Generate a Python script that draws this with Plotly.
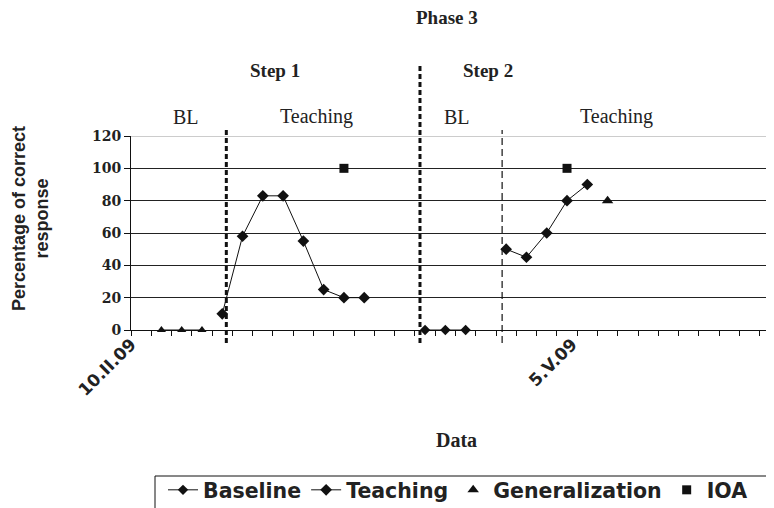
import plotly.graph_objects as go

# ---- data ----
baseline1_sessions = [2, 3, 4]
baseline1_values = [0, 0, 0]
teaching1_sessions = [5, 6, 7, 8, 9, 10, 11, 12]
teaching1_values = [10, 58, 83, 83, 55, 25, 20, 20]
baseline2_sessions = [15, 16, 17]
baseline2_values = [0, 0, 0]
teaching2_sessions = [19, 20, 21, 22, 23]
teaching2_values = [50, 45, 60, 80, 90]
generalization_sessions = [24]
generalization_values = [80]
ioa_sessions = [11, 22]
ioa_values = [100, 100]
date_tick_sessions = [0.5, 22.25]
date_tick_labels = ["10.II.09", "5.V.09"]
phase_change_sessions = [5.2, 14.75, 18.8]
y_ticks = [0, 20, 40, 60, 80, 100, 120]

# ---- layout helpers (page body adds an 8px offset) ----
OFF = 8
FIG_W, FIG_H = 774 - OFF, 508 - OFF
L, T, W, H = 131 - OFF, 136 - OFF, 643, 194
def px_x(px):
    return (px - OFF - L) / W
def px_y(py):
    return (T + H - (py - OFF)) / H

BLACK = "#111111"

fig = go.Figure()
fig.add_trace(go.Scatter(x=baseline1_sessions, y=baseline1_values, mode="lines+markers",
                         name="Baseline", legendgroup="bl",
                         line=dict(color=BLACK, width=1),
                         marker=dict(symbol="triangle-up", size=8, color=BLACK),
                         cliponaxis=False, showlegend=False))
fig.add_trace(go.Scatter(x=baseline2_sessions, y=baseline2_values, mode="lines+markers",
                         name="Baseline", legendgroup="bl",
                         line=dict(color=BLACK, width=1),
                         marker=dict(symbol="diamond", size=8, color=BLACK),
                         cliponaxis=False, showlegend=True))
fig.add_trace(go.Scatter(x=teaching1_sessions, y=teaching1_values, mode="lines+markers",
                         name="Teaching", legendgroup="te",
                         line=dict(color=BLACK, width=1),
                         marker=dict(symbol="diamond", size=9, color=BLACK),
                         cliponaxis=False, showlegend=True))
fig.add_trace(go.Scatter(x=teaching2_sessions, y=teaching2_values, mode="lines+markers",
                         name="Teaching", legendgroup="te",
                         line=dict(color=BLACK, width=1),
                         marker=dict(symbol="diamond", size=9, color=BLACK),
                         cliponaxis=False, showlegend=False))
fig.add_trace(go.Scatter(x=generalization_sessions, y=generalization_values, mode="markers",
                         name="Generalization",
                         marker=dict(symbol="triangle-up", size=10, color=BLACK),
                         cliponaxis=False))
fig.add_trace(go.Scatter(x=ioa_sessions, y=ioa_values, mode="markers",
                         name="IOA",
                         marker=dict(symbol="square", size=9, color=BLACK),
                         cliponaxis=False))
# invisible trace to carry the date tick labels axis
fig.add_trace(go.Scatter(x=date_tick_sessions, y=[None, None], xaxis="x2",
                         mode="markers", showlegend=False, hoverinfo="skip"))

xrange = [0.5, 0.5 + W / 20.28]

fig.update_layout(
    width=FIG_W, height=FIG_H,
    margin=dict(l=L, r=FIG_W - L - W, t=T, b=FIG_H - T - H, autoexpand=False),
    paper_bgcolor="white", plot_bgcolor="white",
    showlegend=True,
    xaxis=dict(range=xrange, showgrid=False, zeroline=False, automargin=False,
               showline=True, linecolor=BLACK, linewidth=1,
               tick0=0.5, dtick=1, ticks="outside", ticklen=5,
               tickcolor=BLACK, showticklabels=False),
    xaxis2=dict(range=xrange, overlaying="x", anchor="y", side="bottom",
                showgrid=False, zeroline=False, showline=False, automargin=False,
                tickvals=date_tick_sessions, ticktext=date_tick_labels,
                tickangle=-45, ticks="",
                tickfont=dict(family="DejaVu Sans", size=17, color="#222222", weight="bold")),
    yaxis=dict(range=[0, 120], tickvals=y_ticks, showgrid=True, automargin=False,
               gridcolor="#222222", gridwidth=1.2, zeroline=False,
               showline=True, linecolor=BLACK, linewidth=1,
               ticks="outside", ticklen=6, tickcolor=BLACK,
               tickfont=dict(family="DejaVu Serif", size=14, color="#222222", weight="bold")),
    legend=dict(orientation="h", x=px_x(163), y=px_y(470), xanchor="left", yanchor="top",
                borderwidth=0, bgcolor="rgba(0,0,0,0)",
                font=dict(family="DejaVu Sans", size=20.5, color="#222222", weight="bold"),
                itemwidth=30, tracegroupgap=0),
)

# legend frame
fig.add_shape(type="rect", xref="paper", yref="paper",
              x0=px_x(155), x1=px_x(770), y0=px_y(512), y1=px_y(476),
              line=dict(color=BLACK, width=1), fillcolor="rgba(0,0,0,0)", layer="above")

# lighter top gridline
fig.add_shape(type="line", xref="paper", yref="y", x0=0, x1=1, y0=120, y1=120,
              line=dict(color="#9a9a9a", width=1.2), layer="above")

# phase change lines
line_specs = [
    (phase_change_sessions[0], 130, 343, 3, "5px,3px"),
    (phase_change_sessions[1], 65, 343, 3, "5px,3px"),
    (phase_change_sessions[2], 130, 343, 1.2, "7px,4px"),
]
for xs, ytop, ybot, w, dash in line_specs:
    fig.add_shape(type="line", xref="x", yref="paper", x0=xs, x1=xs,
                  y0=px_y(ybot), y1=px_y(ytop),
                  line=dict(color=BLACK, width=w, dash=dash))

serif_b = dict(family="Liberation Serif", size=19, color="#222222", weight="bold")
serif_r = dict(family="Liberation Serif", size=20, color="#222222")
texts = [
    ("Phase 3", 447, 18, serif_b),
    ("Step 1", 275, 70, serif_b),
    ("Step 2", 488, 70, serif_b),
    ("BL", 186, 117, serif_r),
    ("Teaching", 316, 117, serif_r),
    ("BL", 457, 117, serif_r),
    ("Teaching", 616, 117, serif_r),
    ("Data", 456, 440, dict(family="Liberation Serif", size=20, color="#222222", weight="bold")),
]
for txt, px, py, f in texts:
    fig.add_annotation(text=txt, xref="paper", yref="paper", x=px_x(px), y=px_y(py),
                       xanchor="center", yanchor="middle", showarrow=False, font=f)

fig.add_annotation(text="Percentage of correct<br>response", xref="paper", yref="paper",
                   x=px_x(30), y=px_y(219), xanchor="center", yanchor="middle",
                   textangle=-90, showarrow=False,
                   font=dict(family="Liberation Sans", size=18, color="#222222", weight="bold"))

fig.write_html("out.html")
